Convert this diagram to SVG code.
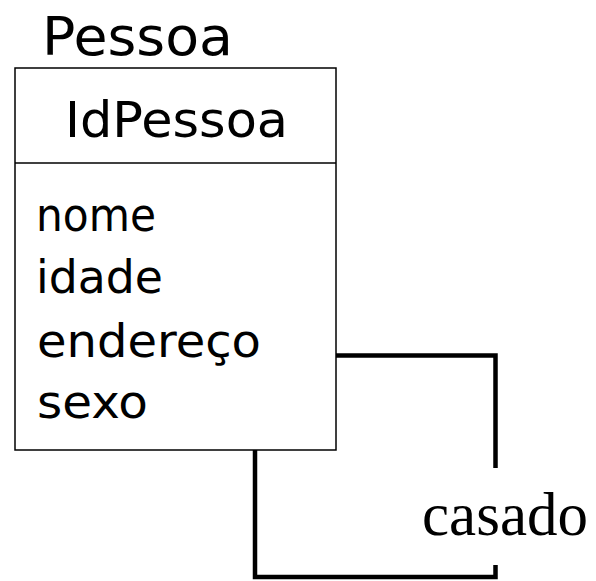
<svg xmlns="http://www.w3.org/2000/svg" width="596" height="581" viewBox="0 0 596 581">
<style>
.t{font-family:"DejaVu Sans","Noto Sans",sans-serif;fill:#000}
.box{fill:#fff;stroke:#000;stroke-width:1.5}
.c{fill:none;stroke:#000;stroke-width:4.5;stroke-linejoin:miter}
</style>
<rect width="596" height="581" fill="#fff"/>
<g id="connectors">
<polyline class="c" points="336,355.5 495.5,355.5 495.5,468"/>
<polyline class="c" points="255,450 255,577 495.5,577 495.5,565"/>
</g>
<g id="pessoa">
<text class="t" x="42" y="55" font-size="54" textLength="191" lengthAdjust="spacingAndGlyphs">Pessoa</text>
<rect class="box" x="15" y="68" width="321" height="382"/>
<line x1="15" y1="163" x2="336" y2="163" stroke="#000" stroke-width="1.5"/>
<text class="t" x="65" y="137" font-size="50" textLength="223" lengthAdjust="spacingAndGlyphs">IdPessoa</text>
<text class="t" x="36" y="231" font-size="46" textLength="120" lengthAdjust="spacingAndGlyphs">nome</text>
<text class="t" x="36" y="293" font-size="46" textLength="127" lengthAdjust="spacingAndGlyphs">idade</text>
<text class="t" x="37" y="357" font-size="46" textLength="224" lengthAdjust="spacingAndGlyphs">endereço</text>
<text class="t" x="37" y="418" font-size="46" textLength="111" lengthAdjust="spacingAndGlyphs">sexo</text>
</g>
<g id="casado">
<text x="422" y="535" font-family="'Liberation Serif','Times New Roman',serif" font-size="61" fill="#000">casado</text>
</g>
</svg>
